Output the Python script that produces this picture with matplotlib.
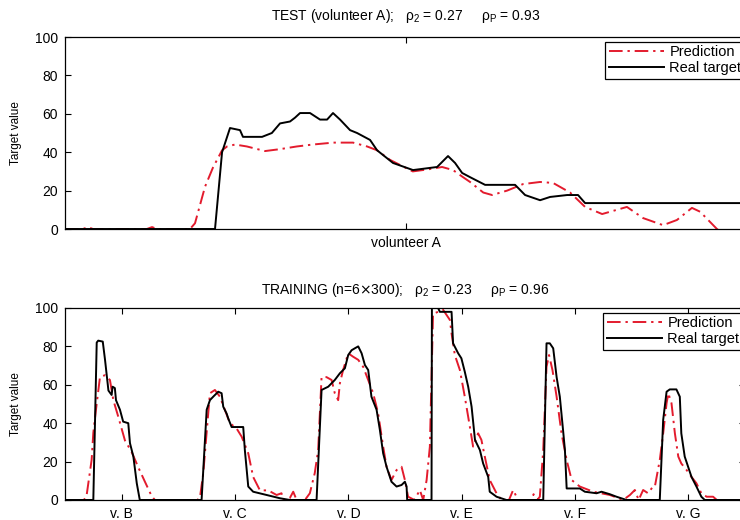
import matplotlib
matplotlib.use('Agg')
import matplotlib.pyplot as plt

plt.rcParams['font.family'] = ['Liberation Sans', 'DejaVu Sans']

# test panel (volunteer A), x = sample index 0..300
test_x_real = [0, 66, 69.1, 72.6, 77, 78.3, 86.7, 91, 94.6, 99, 101.2, 103.4, 107.8, 112.2, 115.3,
               117.9, 121, 125.4, 128.5, 134.2, 137.3, 144.3, 153.1, 163.7, 168.5, 171.6, 174.7,
               178.2, 184.8, 198, 202.4, 209, 213.4, 220.9, 225.7, 228.8, 300]
test_real = [0, 0, 40, 52.6, 51.5, 48, 48, 50, 55, 56, 58, 60.4, 60.4, 57, 57,
             60.4, 57, 51.5, 50, 46.4, 41, 34.4, 30.7, 32.3, 38, 34.4, 29.2,
             27, 23, 23, 17.7, 15, 16.7, 17.7, 17.7, 13.5, 13.5]

test_x_pred = [0, 7.9, 10.1, 12.3, 36, 38.3, 40.5, 55, 57.2, 61.6, 65.1, 69.1, 71.3, 74.8, 80, 88,
               94.6, 102, 109, 118, 126.7, 132.9, 137.3, 143, 153, 159.3, 165.9, 170.7, 175.1,
               178.2, 184, 187.9, 194.5, 201.5, 209, 214.7, 222.2, 228.8, 236.3, 247.2, 254.3,
               263.1, 269.2, 275.8, 279.4, 286.8, 290, 300]
test_pred = [0, 0, 1, 0, 0, 1, 0, 0, 3, 22, 32, 41, 43, 44, 43, 40.6,
             41.6, 43, 44, 45, 45, 43, 41, 36, 30, 31, 32.3, 30.7, 27,
             24.5, 19, 17.7, 20, 23.4, 24.5, 24, 19, 11.5, 7.8, 11.5, 5.7,
             2, 4.7, 11, 9, 0, -3, -3]

# training panel, six volunteers x 300 samples
train_x_real = [0, 75, 84, 88, 100, 106, 115, 123.5, 126, 132, 135, 145.5, 154, 167.5, 172, 181, 190, 198,
                361.5, 375, 383.6, 392.3, 405.6, 414.5, 418.8, 427.8, 432, 441, 471.7, 476, 485, 498,
                533.6, 568.8, 595,
                665.8, 679, 696.6, 714, 727.5, 740.7, 749.5, 758.5, 767, 776, 785, 793.7, 802.4, 811,
                824.6, 833.3, 842, 851, 864, 877.5, 890.7, 899.5, 904, 905.6,
                970, 971, 985, 992, 1023, 1027, 1040.5, 1049, 1058, 1067, 1076, 1085, 1098, 1106.6,
                1120, 1124, 1142, 1168,
                1265.6, 1274.3, 1283, 1292, 1301, 1309.5, 1318, 1323, 1327.6, 1362.4, 1375.7, 1406.6,
                1419.8, 1441.8, 1459.4, 1486,
                1574, 1583, 1592, 1600.5, 1618, 1627, 1631, 1640, 1649, 1658, 1671, 1684, 1693, 1800]
train_real = [0, 0, 82, 83, 82.5, 73, 57, 54.7, 59, 58.3, 52, 47, 40.8, 40, 29.6, 22.6, 8.7, 0,
              0, 47, 52, 53.8, 56.4, 55.6, 48.6, 45, 42.5, 38, 38, 26, 7, 4.3,
              2.6, 0.9, 0,
              0, 57.3, 59, 62.5, 66, 68.6, 75.5, 78, 79, 80, 76.4, 70.3, 67.7, 53.8,
              47, 36.5, 24.3, 17.3, 9.5, 7, 7.8, 9.5, 7, 0,
              0, 100, 101, 98, 98, 81.6, 76.4, 73.8, 66.8, 59, 48.6, 31.3, 26, 19,
              12, 4.3, 1.7, 0,
              0, 81.6, 81.6, 79, 64, 53.8, 36.5, 26, 6, 6, 4.3, 3.5,
              4.3, 3, 1.7, 0,
              0, 41.7, 56.4, 57.6, 57.6, 53.8, 34.7, 22.6, 17.3, 12, 7, 1.7, 0, 0]

train_x_pred = [0, 50, 57, 70.6, 75, 82, 92.6, 105.8, 119, 128, 141, 158.7, 176.5, 194, 211.6, 229.4, 238,
                350, 357, 366, 374.8, 383.6, 396.8, 410, 423, 436.5, 454, 467.5, 485, 498, 516, 538, 560,
                573, 577.5, 595, 604, 613, 635, 648,
                661, 670, 679, 692, 705.6, 714, 723, 727.5, 736, 749.5, 762.7, 776, 789, 802.4, 815.6,
                828.8, 842, 851, 864, 877.5, 890.7, 899.5, 908, 925, 939, 948,
                957, 965.6, 974, 1000.8, 1018.5, 1023, 1031.7, 1045, 1058, 1071.4, 1080, 1093.4, 1102,
                1111, 1124, 1142, 1155, 1175, 1186, 1199, 1235, 1240, 1250,
                1256.6, 1265.6, 1274.3, 1281, 1290, 1301, 1314, 1327.6, 1340.8, 1362.4, 1398, 1442, 1477,
                1495, 1508, 1518, 1530, 1543, 1556,
                1561, 1574, 1583, 1592, 1596.6, 1605, 1614, 1623, 1631, 1645, 1658, 1671, 1684, 1698,
                1715, 1725, 1800]
train_pred = [0, 0, 2, 21, 35, 47, 64, 65, 62.5, 52, 43.4, 31, 25, 17, 9.5, 2, 0,
              0, 1, 14, 35, 55.6, 57.3, 53.8, 47, 40, 37.3, 33, 24.3, 12, 5, 5, 2.6,
              3.5, 0, 1, 4.3, 0, 0, 3.5,
              14, 26, 64, 64, 62.5, 55.6, 52, 60.8, 67.7, 76.4, 74.6, 73, 69.4, 62.5, 55.6,
              45, 27.8, 17.3, 10.4, 15.6, 17.3, 10.4, 1.7, 0, 5.2, 0,
              10.4, 27.8, 97, 99, 93.8, 86.8, 75.5, 67.7, 53.8, 38.2, 27.8, 34.7, 31.3,
              22.6, 10.4, 3.5, 0, 0, 5.2, 0, 0, 3, 0,
              1.7, 26, 69.4, 75.5, 67.7, 53.8, 34.7, 20.8, 10.4, 7, 4.3, 2.6, 0,
              2.6, 5.2, 0, 5.2, 3.5, 7,
              7, 20.8, 34.7, 50.4, 55.6, 50.4, 34.7, 22.6, 19, 15.6, 12, 8.7, 3.5, 1.7,
              1.7, 0, 0]

test_ticks = [150]
test_ticklabels = ['volunteer A']
train_ticks = [150, 450, 750, 1050, 1350, 1650]
train_ticklabels = ['v. B', 'v. C', 'v. D', 'v. E', 'v. F', 'v. G']

red = '#e31b2d'
fig = plt.figure(figsize=(7.4, 5.2), dpi=100)
ax1 = fig.add_axes([0.0878, 0.5596, 0.9216, 0.3692])
ax2 = fig.add_axes([0.0878, 0.0385, 0.9192, 0.3692])

panels = [
    (ax1, test_x_pred, test_pred, test_x_real, test_real, 300, test_ticks, test_ticklabels,
     r'TEST (volunteer A);   $\mathregular{\rho_2}$ = 0.27     $\mathregular{\rho_P}$ = 0.93', 12),
    (ax2, train_x_pred, train_pred, train_x_real, train_real, 1800, train_ticks, train_ticklabels,
     r'TRAINING (n=6$\times$300);   $\mathregular{\rho_2}$ = 0.23     $\mathregular{\rho_P}$ = 0.96', 10),
]

for ax, xp, yp, xr, yr, xmax, ticks, labels, title, tpad in panels:
    ax.plot(xp, yp, color=red, lw=1.4, linestyle=(0, (7, 2.5, 1.2, 2.5)), label='Prediction')
    ax.plot(xr, yr, color='black', lw=1.4, label='Real target')
    ax.set_xlim(0, xmax)
    ax.set_ylim(0, 100)
    ax.set_yticks([0, 20, 40, 60, 80, 100])
    ax.set_xticks(ticks)
    ax.set_xticklabels(labels, fontsize=10.5)
    ax.tick_params(direction='in', top=True, right=True, labelsize=10, length=4, pad=5)
    ax.set_ylabel('Target value', fontsize=8.5, labelpad=9)
    ax.set_title(title, fontsize=10, pad=tpad)
    for s in ax.spines.values():
        s.set_linewidth(0.9)
    leg = ax.legend(loc='upper right', bbox_to_anchor=(0.997, 0.975), fontsize=10.5,
                    handlelength=3.8, fancybox=False, framealpha=1, edgecolor='black',
                    borderpad=0.25, labelspacing=0.1, handletextpad=0.35, borderaxespad=0)
    leg.get_frame().set_linewidth(0.9)

fig.savefig('out.png', dpi=100)
